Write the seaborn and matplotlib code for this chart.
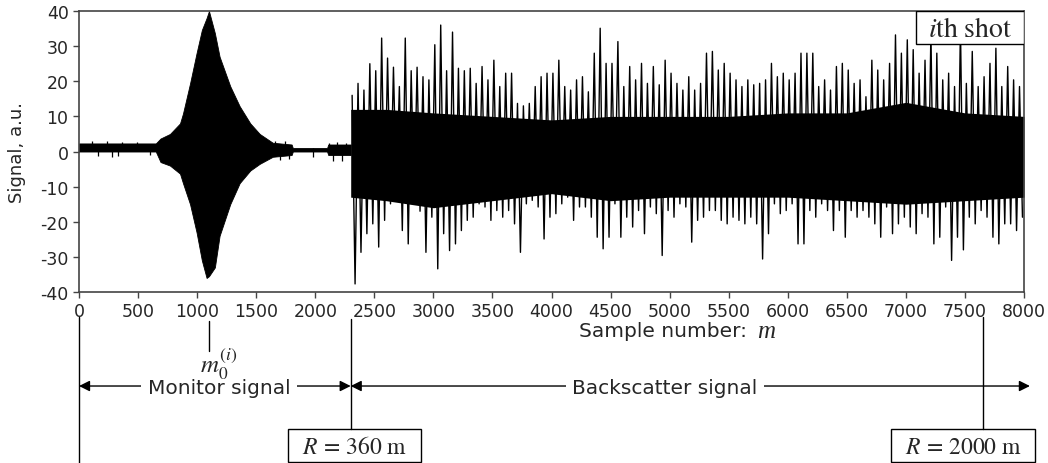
import numpy as np
import matplotlib
matplotlib.use("Agg")
from matplotlib import pyplot as plt
from matplotlib.patches import Rectangle
import seaborn as sns

# monitor burst envelope (sample number, upper, lower)
mon_s = [0, 650, 690, 770, 855, 880, 940, 995, 1040, 1080, 1100, 1150, 1190,
         1280, 1360, 1450, 1530, 1640, 1800, 1810, 2100, 2110, 2300]
mon_hi = [2.3, 2.3, 3.7, 5, 8, 10.8, 19.4, 28, 34.6, 38, 40, 33.7, 27,
          18.6, 12.9, 8, 5, 2.5, 2, 1, 1, 2, 2]
mon_lo = [0, 0, -3, -4, -6.3, -9, -15, -23, -31, -36, -35.5, -33, -24,
          -15, -9, -5.4, -3.5, -1.5, -1, 0, 0, -1, -1]

# small spikes on the quiet parts of the monitor signal
mon_spike_s = [110, 160, 235, 280, 330, 365, 490, 600, 1660, 1700, 1740, 1780,
               1985, 2120, 2150, 2180, 2230, 2260]
mon_spike_v = [3, -1.3, 3, -1.5, -1.2, 2.8, 2.8, -1, 3, -2.5, 3, -2.2,
               -1.5, 2.5, -2.8, 2.6, -2.6, 2.4]

# dense core of the backscatter signal
core_s = [2300, 2600, 3000, 3500, 4000, 4500, 5000, 5500, 6000, 6500, 7000, 7500, 8000]
core_hi = [12, 12, 11, 10, 9, 10, 10, 10, 11, 11, 14, 11, 10]
core_lo = [-13, -14, -16, -14, -12, -14, -13, -13, -13, -14, -15, -14, -13]

# backscatter peaks per 50-sample bin, starting at sample 2300
bs_hi = [16, 19.4, 17.5, 25, 23, 32.3, 26.6, 24, 18.5, 32.3, 23, 24, 21.3, 20.4, 30.4, 36,
         23, 34, 23.7, 23, 23.7, 19.4,
         24.2, 20.4, 26, 18.5, 22.3, 22.3, 13.7, 13, 13.7, 18.5, 21.3, 22.3, 22.3, 26, 18.5,
         17.5, 20.4, 21.3, 17, 28, 35.1, 25.1, 25.1,
         31.3, 18.5, 24.2, 20.4, 25.1, 19.4, 24.2, 19, 26, 22.3, 19.4, 17.5, 21.3, 17.5, 19.4,
         28, 28.5, 23.2, 25.1, 22.3, 20.4, 18.5, 20.4,
         19, 19.4, 20.4, 25.1, 21.3, 22.3, 20.4, 22.3, 28, 28, 28, 18.5, 20.4, 17.5, 24.2,
         25.1, 23.2, 19.4, 20.4, 15.6, 26, 23.2, 20.4,
         25.1, 33.2, 28, 31.8, 29, 22.3, 26, 34, 28, 20.4, 22.3, 18.5, 36, 19.4, 28.5,
         18.5, 21.3, 25.1, 29.4, 18.5, 24.2, 20.4, 18.5]
bs_lo = [-37.7, -28.7, -23.4, -20.6, -27.2, -19.6, -14.9, -12.5, -22.5, -26.3, -14.9, -17,
         -28.7, -18.7, -33.4, -23.4, -28.2, -26.3, -22.5, -19.6, -18.7, -14.9,
         -15.8, -19.6, -16.8, -18.7, -16.8, -20.6, -28.7, -14.9, -13.9, -15.8, -24.9, -18.7,
         -17.7, -14.9, -13, -19.6, -15.8, -15.8, -18.7, -24.4, -27.7, -24.4, -14.9,
         -24.4, -18.7, -21.5, -16.8, -23.4, -15.8, -17.7, -29.6, -16.8, -18.7, -14.9, -15.8,
         -25.8, -19.6, -18.7, -16.8, -16.8, -19.6, -20.6, -18.7, -19.6, -20.6, -18.7,
         -20.6, -30.6, -23.4, -14.9, -17.7, -16.8, -14.9, -26.3, -26.3, -16.8, -18.7, -14.9,
         -16.8, -22.5, -16.8, -24.4, -16.8, -18.7, -16.8, -18.7, -20.6, -24.4, -15.8,
         -23.4, -20.6, -18.7, -21.5, -23.4, -17.7, -18.7, -26.3, -24.4, -15.8, -31, -24.4,
         -28, -18.7, -20.6, -16.8, -18.7, -24.4, -26.3, -20.6, -20.6, -22.5, -18.7]

xticks = list(range(0, 8001, 500))
yticks = list(range(-40, 41, 10))

m0 = 1100       # position of m0 marker
r360 = 2300     # start of backscatter, R = 360 m
r2000 = 7650    # R = 2000 m

sns.set_style("ticks")
plt.rcParams["font.family"] = ["DejaVu Sans"]
plt.rcParams["axes.unicode_minus"] = False
plt.rcParams["mathtext.fontset"] = "stix"

fig = plt.figure(figsize=(10.48, 4.64), dpi=100)
ax = fig.add_axes([0.0754, 0.3685, 0.9017, 0.6056])

ax.fill_between(mon_s, mon_lo, mon_hi, color="black", lw=0.6)
ax.vlines(mon_spike_s, 1, mon_spike_v, color="black", lw=0.9)
ax.fill_between(core_s, core_lo, core_hi, color="black", lw=0)

bins = r360 + 50 * np.arange(len(bs_hi))
zx = np.column_stack([bins + 12, bins + 37]).ravel()
zy = np.column_stack([bs_hi, bs_lo]).ravel()
sns.lineplot(x=zx, y=zy, color="black", linewidth=1.0, sort=False, estimator=None, ax=ax)

ax.set_xlim(0, 8000)
ax.set_ylim(-40, 40)
ax.set_xticks(xticks)
ax.set_yticks(yticks)
ax.tick_params(labelsize=12.5, length=4, width=1, direction="out", color="#444")
for sp in ax.spines.values():
    sp.set_color("#444")
    sp.set_linewidth(1.2)
ax.set_ylabel("Signal, a.u.", fontsize=13)
ax.yaxis.set_label_coords(-0.056, 0.5)


def yf(py):
    # pixel row in the figure -> axes fraction
    return (293 - py) / 281


tr = ax.get_xaxis_transform()
kw = dict(transform=tr, clip_on=False, color="black", lw=1)

ax.text(4233, yf(331), "Sample number:", transform=tr, fontsize=14.5, ha="left", va="center")
ax.text(5740, yf(332), "m", transform=tr, fontsize=18, family="Liberation Serif",
        style="italic", ha="left", va="center")

ax.plot([0, 0], [yf(318), yf(464)], **kw)
ax.plot([r360, r360], [yf(320), yf(430)], **kw)
ax.plot([r2000, r2000], [yf(318), yf(430)], **kw)
ax.plot([m0, m0], [yf(322), yf(352)], **kw)

arrow = dict(arrowstyle="<|-|>", color="black", lw=1, mutation_scale=16, shrinkA=0, shrinkB=0)
ax.annotate("", xy=(0, yf(387)), xytext=(r360, yf(387)), xycoords=tr, arrowprops=arrow)
ax.annotate("", xy=(r360, yf(387)), xytext=(8050, yf(387)), xycoords=tr, arrowprops=arrow)
ax.text(1185, yf(388), "Monitor signal", transform=tr, fontsize=14.5, ha="center", va="center",
        bbox=dict(fc="white", ec="none", pad=5))
ax.text(4961, yf(388), "Backscatter signal", transform=tr, fontsize=14.5, ha="center",
        va="center", bbox=dict(fc="white", ec="none", pad=5))
ax.text(1185, yf(364), r"$m_0^{(i)}$", transform=tr, fontsize=18, ha="center", va="center",
        zorder=10)

ax.add_patch(Rectangle((1769, yf(463)), 1126, yf(430) - yf(463), transform=tr,
                       fc="white", ec="black", lw=1, clip_on=False))
ax.text(2332, yf(447), r"$R\,=\,360\ \mathrm{m}$", transform=tr, fontsize=17,
        ha="center", va="center")
ax.add_patch(Rectangle((6874, yf(463)), 1219, yf(430) - yf(463), transform=tr,
                       fc="white", ec="black", lw=1, clip_on=False))
ax.text(7484, yf(447), r"$R\,=\,2000\ \mathrm{m}$", transform=tr, fontsize=17,
        ha="center", va="center")

ax.add_patch(Rectangle((0.8857, 0.8826), 0.1143, 0.1174, transform=ax.transAxes,
                       fc="white", ec="black", lw=1, zorder=5))
ax.text(0.943, 0.94, r"$i\mathrm{th\ shot}$", transform=ax.transAxes, fontsize=20,
        ha="center", va="center", zorder=6)

fig.savefig("out.png", dpi=100)
